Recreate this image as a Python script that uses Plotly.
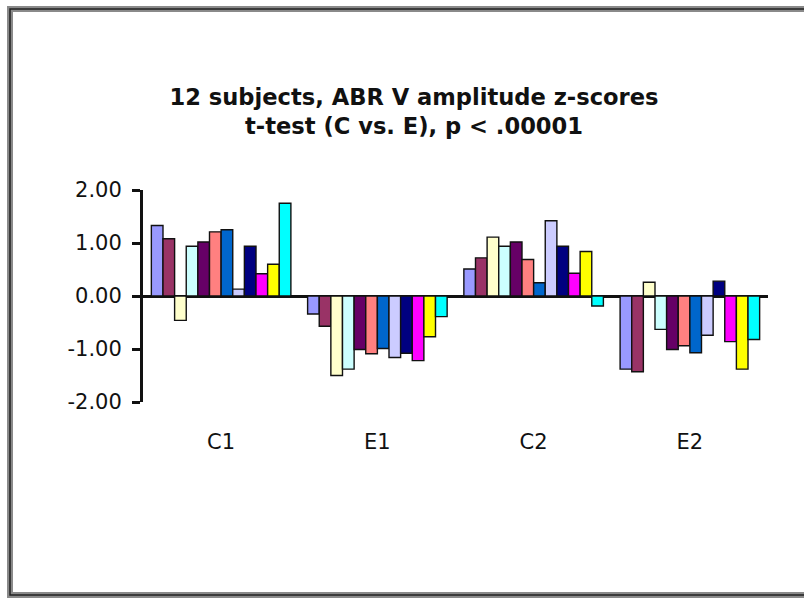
import plotly.graph_objects as go

categories = ["C1", "E1", "C2", "E2"]
subjects = ["S%d" % i for i in range(1, 13)]
c1 = [1.33, 1.08, -0.46, 0.94, 1.02, 1.21, 1.25, 0.13, 0.94, 0.42, 0.60, 1.75]
e1 = [-0.34, -0.57, -1.50, -1.38, -1.01, -1.09, -0.99, -1.16, -1.08, -1.22, -0.77, -0.39]
c2 = [0.51, 0.72, 1.11, 0.94, 1.02, 0.69, 0.25, 1.42, 0.94, 0.43, 0.84, -0.19]
e2 = [-1.38, -1.43, 0.26, -0.63, -1.01, -0.94, -1.07, -0.74, 0.28, -0.86, -1.38, -0.82]
colors = ["#9999FF", "#993366", "#FFFFCC", "#CCFFFF", "#660066", "#FF8080",
          "#0066CC", "#CCCCFF", "#000080", "#FF00FF", "#FFFF00", "#00FFFF"]
y_ticks = [-2, -1, 0, 1, 2]
y_tick_labels = ["-2.00", "-1.00", "0.00", "1.00", "2.00"]
title_text = "12 subjects, ABR V amplitude z-scores<br>t-test (C vs. E), p < .00001"

W, H = 804, 598
L, R, T, B = 143, 36, 190, 196

fig = go.Figure()
groups = [c1, e1, c2, e2]
for i, name in enumerate(subjects):
    fig.add_trace(go.Bar(
        x=categories,
        y=[g[i] for g in groups],
        name=name,
        marker=dict(color=colors[i], line=dict(color="#111111", width=1.4)),
        showlegend=False,
    ))

def px_x(p):
    return (p - L) / (W - L - R)

def px_y(p):
    return (H - B - p) / (H - T - B)

shapes = [
    dict(type="rect", xref="paper", yref="paper",
         x0=px_x(10), x1=px_x(820), y0=px_y(9), y1=px_y(595),
         line=dict(color="#8a8a8a", width=6), fillcolor="rgba(0,0,0,0)", layer="below"),
    dict(type="rect", xref="paper", yref="paper",
         x0=px_x(10), x1=px_x(820), y0=px_y(9), y1=px_y(595),
         line=dict(color="#222222", width=1.5), fillcolor="rgba(0,0,0,0)", layer="below"),
]

fig.update_layout(
    width=W, height=H,
    margin=dict(l=L, r=R, t=T, b=B, autoexpand=False),
    paper_bgcolor="white", plot_bgcolor="white",
    barmode="group", bargap=0.107, bargroupgap=0,
    font=dict(family="DejaVu Sans, Verdana, sans-serif", color="#111111"),
    title=dict(text="<b>" + title_text + "</b>", x=414 / W, xref="container",
               xanchor="center", y=1 - 105 / H, yref="container", yanchor="middle",
               font=dict(size=22.6, color="#111111")),
    xaxis=dict(showline=False, ticks="", showgrid=False, zeroline=False,
               tickfont=dict(size=21), ticklabelstandoff=25),
    yaxis=dict(range=[-2, 2], tickvals=y_ticks, ticktext=y_tick_labels,
               showline=True, linecolor="#111111", linewidth=3,
               ticks="outside", ticklen=8, tickwidth=3, tickcolor="#111111",
               showgrid=False, zeroline=True, zerolinecolor="#111111", zerolinewidth=3,
               tickfont=dict(size=21), ticklabelstandoff=6),
    shapes=shapes,
)

fig.write_html("out.html", config={"displayModeBar": False},
               post_script="document.body.style.margin='0';document.body.style.overflow='hidden';")
